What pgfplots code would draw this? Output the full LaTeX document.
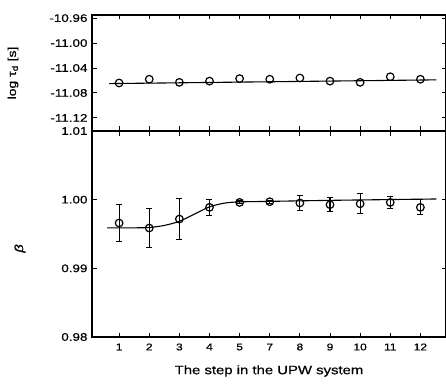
\documentclass[border=0pt]{standalone}
\usepackage{pgfplots}
\pgfplotsset{compat=1.18}
\usepackage{fontspec}
\setmainfont[FakeStretch=1.22, FakeBold=0.6]{Liberation Sans}
\begin{document}
\begin{tikzpicture}
\useasboundingbox (-92pt,-51pt) rectangle (354pt,337pt);
\pgfplotsset{
  every axis/.append style={
    scale only axis, width=354pt,
    xmin=0.1, xmax=11.85,
    xtick={1,2,3,4,5,6,7,8,9,10,11},
    tick align=inside, major tick length=4.5pt,
    axis line style={line width=1.2pt},
    every tick/.style={black, line width=1pt},
    y tick label style={font=\fontsize{11}{13}\selectfont, xshift=-1pt},
    x tick label style={font=\fontsize{9.8}{12}\selectfont},
    /pgf/number format/assume math mode=true,
    /pgf/number format/fixed, /pgf/number format/fixed zerofill,
    /pgf/number format/precision=2,
  }
}
% lower panel
\begin{axis}[at={(0,0)}, anchor=south west, height=206pt,
  ymin=0.98, ymax=1.01, ytick={0.98,0.99,1.00,1.01},
  xticklabels={1,2,3,4,5,7,8,9,10,11,12},
  xlabel={The step in the UPW system},
  xlabel style={font=\fontsize{12.2}{14}\selectfont, yshift=-8pt},
  ylabel={\itshape β},
  ylabel style={font=\fontsize{12}{14}\selectfont, at={(axis description cs:-0.2034,0.43)}, anchor=center},
  x tick label style={yshift=-3pt},
  clip=false]
\addplot[black, line width=1.1pt, smooth, tension=0.5] coordinates {
 (0.6,0.99590) (1,0.99590) (1.5,0.99590) (2,0.99595) (2.5,0.99625) (3,0.99685)
 (3.5,0.99790) (4,0.99895) (4.5,0.99950) (5,0.99968) (6,0.99975) (8,0.99990) (11.53,1.00010)};
\addplot[black, only marks, mark=o, mark size=3.8pt,
  mark options={fill=white, line width=1.2pt},
  error bars/.cd, y dir=both, y explicit, error mark options={rotate=90, mark size=3pt, line width=1.1pt},
  error bar style={line width=1.1pt}] coordinates {
 (1,0.99660) +- (0,0.00265)
 (2,0.99587) +- (0,0.00278)
 (3,0.99718) +- (0,0.00300)
 (4,0.99888) +- (0,0.00120)
 (5,0.99960) +- (0,0.00020)
 (6,0.99970) +- (0,0.00020)
 (7,0.99952) +- (0,0.00105)
 (8,0.99927) +- (0,0.00100)
 (9,0.99940) +- (0,0.00145)
 (10,0.99960) +- (0,0.00090)
 (11,0.99888) +- (0,0.00110)
};
\end{axis}
% upper panel
\begin{axis}[at={(0,206pt)}, anchor=south west, height=116pt,
  ymin=-11.141, ymax=-10.955,
  ytick={-10.96,-11.00,-11.04,-11.08,-11.12},
  xticklabels={},
  ylabel={log τ\textsubscript{d} [s]},
  ylabel style={font=\fontsize{11.5}{13}\selectfont, at={(axis description cs:-0.2232,0.5)}, anchor=center},
  clip=false]
\addplot[black, line width=1.1pt] coordinates {(0.67,-11.065) (11.53,-11.059)};
\addplot[black, only marks, mark=o, mark size=3.8pt, mark options={fill=white, line width=1.2pt}] coordinates {
 (1,-11.064) (2,-11.058) (3,-11.063) (4,-11.061) (5,-11.057) (6,-11.058)
 (7,-11.056) (8,-11.061) (9,-11.063) (10,-11.054) (11,-11.058)};
\end{axis}
\end{tikzpicture}
\end{document}
